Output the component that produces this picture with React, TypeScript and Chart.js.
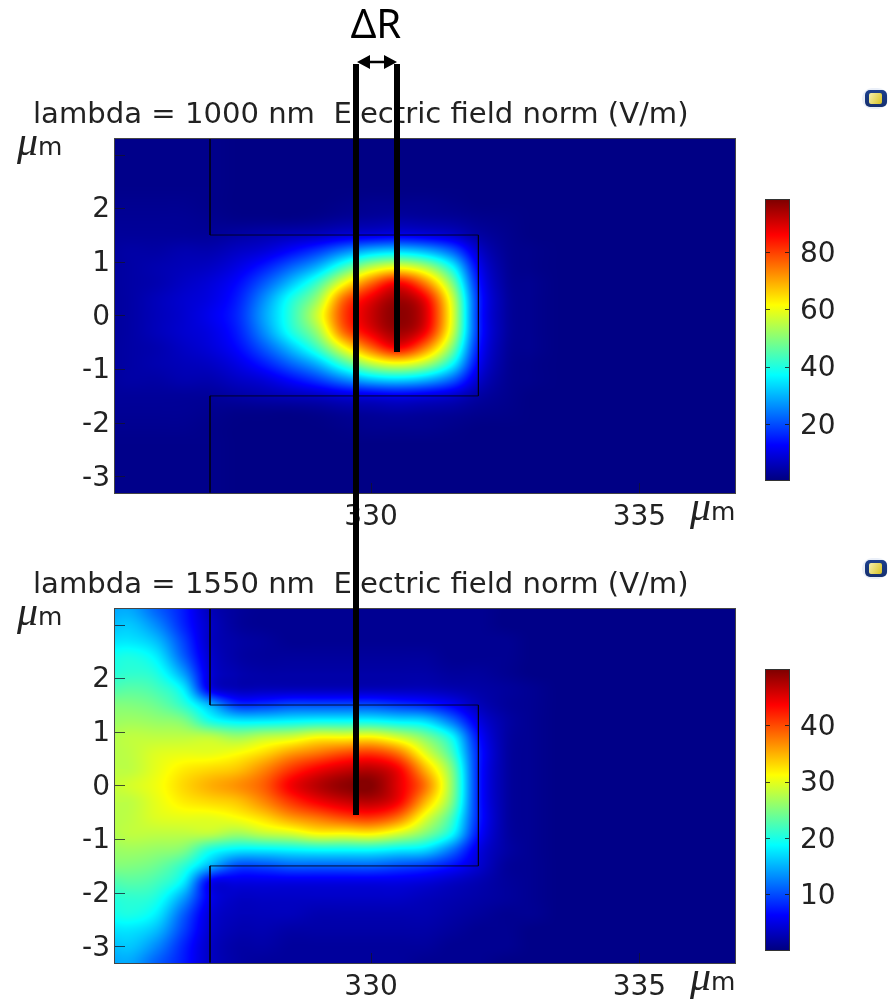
import React, { useEffect, useRef } from "react";
import { Chart, registerables } from "chart.js";
Chart.register(...registerables);

const titles = ["lambda = 1000 nm  Electric field norm (V/m)", "lambda = 1550 nm  Electric field norm (V/m)"];
const xNodes = [325,325.5,326,326.5,327,327.5,328,328.5,329,329.5,330,330.5,331,331.5,332,332.5,333,333.5,334,334.5,335,335.5,336,336.5,337];
const yNodes = [3.3,3,2.7,2.4,2.1,1.8,1.5,1.2,0.9,0.6,0.3,0,-0.3,-0.6,-0.9,-1.2,-1.5,-1.8,-2.1,-2.4,-2.7,-3,-3.3];
const xTicks = [330, 335];
const yTicks = [3, 2, 1, 0, -1, -2, -3];
const waveguideX = [327, 327, 332, 332, 327, 327];
const waveguideY = [3.3, 1.5, 1.5, -1.5, -1.5, -3.3];
const barTicks1 = [20, 40, 60, 80];
const barTicks2 = [10, 20, 30, 40];
const range1 = [0.45, 98.1];
const range2 = [0.1, 49.8];
const unitMu = "\u03BC";
const unitM = "m";

const field1 = [
[1.5,1.5,1.5,1.5,1.5,1,1,1,1,1,1,1,1,1,1,1,1,1,1,1,1,1,1,1,1],
[1.5,1.5,1.5,1.5,1.5,1,1,1,1,1,1,1,1,1,1,1,1,1,1,1,1,1,1,1,1],
[1.5,1.5,1.5,1.5,1.5,1,1,1,1,1,1,1,1,1,1,1,1,1,1,1,1,1,1,1,1],
[1.5,1.5,1.5,1.5,1.5,1,1,1,1,1,1,1,1,1,1,1,1,1,1,1,1,1,1,1,1],
[2,2,2,2,1.5,1,1,1,1,1.5,2,2,2,1.5,1,1,1,1,1,1,1,1,1,1,1],
[2.5,2.5,2.5,2.5,2,1.5,1.5,1.5,2,3,3.5,4,3.5,3,2,1.5,1,1,1,1,1,1,1,1,1],
[3,3,3,3,3,4,5,6,7,9,10,11,10,8,4,2,1,1,1,1,1,1,1,1,1],
[3,4,4,5,5,7,9,13,18,25,31,33,30,22,8,2.5,1.5,1,1,1,1,1,1,1,1],
[3,4,5,6,7,10,15,22,30,43,55,60,54,38,12,3,1.5,1,1,1,1,1,1,1,1],
[3,4,5,7,9,13,21,31,43,61,76,86,74,50,15,3.5,2,1,1,1,1,1,1,1,1],
[3,4,6,8,10,15,26,39,52,76,88,95,87,58,17,4,2,1,1,1,1,1,1,1,1],
[3,4,6,8,11,16,28,41,57,80,91,97,90,60,17,4,2,1,1,1,1,1,1,1,1],
[3,4,6,8,10,15,26,39,52,76,88,95,87,58,17,4,2,1,1,1,1,1,1,1,1],
[3,4,5,7,9,13,21,31,43,61,76,86,74,50,15,3.5,2,1,1,1,1,1,1,1,1],
[3,4,5,6,7,10,15,22,30,43,55,60,54,38,12,3,1.5,1,1,1,1,1,1,1,1],
[3,4,4,5,5,7,9,13,18,25,31,33,30,22,8,2.5,1.5,1,1,1,1,1,1,1,1],
[3,3,3,3,3,4,5,6,7,9,10,11,10,8,4,2,1,1,1,1,1,1,1,1,1],
[2.5,2.5,2.5,2.5,2,1.5,1.5,1.5,2,3,3.5,4,3.5,3,2,1.5,1,1,1,1,1,1,1,1,1],
[2,2,2,2,1.5,1,1,1,1,1.5,2,2,2,1.5,1,1,1,1,1,1,1,1,1,1,1],
[1.5,1.5,1.5,1.5,1.5,1,1,1,1,1,1,1,1,1,1,1,1,1,1,1,1,1,1,1,1],
[1.5,1.5,1.5,1.5,1.5,1,1,1,1,1,1,1,1,1,1,1,1,1,1,1,1,1,1,1,1],
[1.5,1.5,1.5,1.5,1.5,1,1,1,1,1,1,1,1,1,1,1,1,1,1,1,1,1,1,1,1],
[1.5,1.5,1.5,1.5,1.5,1,1,1,1,1,1,1,1,1,1,1,1,1,1,1,1,1,1,1,1],
];

const field2 = [
[14,14.5,11,7.5,3,1.5,1,1,1,1,1,1,1,1,1,0.5,0.5,0.5,0.5,0.5,0.5,0.5,0.5,0.5,0.5],
[15,16,13,8,3.5,1.5,1,1,1,1,1,1,1,1,1,0.5,0.5,0.5,0.5,0.5,0.5,0.5,0.5,0.5,0.5],
[17,17.5,15.5,9.5,3.5,2,1.5,1,1,1,1,1,1,1,1,1,0.5,0.5,0.5,0.5,0.5,0.5,0.5,0.5,0.5],
[19,20,18,11,4,2,1.5,1.5,1.5,1.5,1.5,1.5,1.5,1,1,1,0.5,0.5,0.5,0.5,0.5,0.5,0.5,0.5,0.5],
[20,21,20,14,4.5,2.5,2,2,2,2,2,2,2,1.5,1.5,1,0.5,0.5,0.5,0.5,0.5,0.5,0.5,0.5,0.5],
[22,23,22,18,5.5,3,3,3,3,3,3,3,3,2.5,2,1.5,1,0.5,0.5,0.5,0.5,0.5,0.5,0.5,0.5],
[25,25,24,21,15,9,9,10,10,10,10,9,8,6,3,1.5,1,0.5,0.5,0.5,0.5,0.5,0.5,0.5,0.5],
[26,26.5,26,25,20,18,18,18.5,19,19,19,18,17,12,5,2,1,0.5,0.5,0.5,0.5,0.5,0.5,0.5,0.5],
[27,28,28,28,28,26.5,28,29,31,31,31.5,29,25,19,7,2,1,0.5,0.5,0.5,0.5,0.5,0.5,0.5,0.5],
[27.5,28,29.5,30,30,31,33,36,38,40,41,38,30,22,8,2,1,0.5,0.5,0.5,0.5,0.5,0.5,0.5,0.5],
[28,28,30,32,33,34,37,41,44,46,47,44,35,25,8,2,1,0.5,0.5,0.5,0.5,0.5,0.5,0.5,0.5],
[28,29,30.5,33,35,36.5,39,44,47,49,49.5,45,38,26,8,2,1,0.5,0.5,0.5,0.5,0.5,0.5,0.5,0.5],
[28,28,30,32,33,34,37,41,44,46,47,44,35,25,8,2,1,0.5,0.5,0.5,0.5,0.5,0.5,0.5,0.5],
[27.5,28,29.5,30,30,31,33,36,38,40,41,38,30,22,8,2,1,0.5,0.5,0.5,0.5,0.5,0.5,0.5,0.5],
[27,28,28,28,28,26.5,28,29,31,31,31.5,29,25,19,7,2,1,0.5,0.5,0.5,0.5,0.5,0.5,0.5,0.5],
[26,26.5,26,25,20,18,18,18.5,19,19,19,18,17,12,5,2,1,0.5,0.5,0.5,0.5,0.5,0.5,0.5,0.5],
[25,25,24,21,15,10,10,11,11,11,11,10,9,7,4,1.5,1,0.5,0.5,0.5,0.5,0.5,0.5,0.5,0.5],
[22,23,22,18,6,5,5,5,5,5,5,5,4.5,3.5,2.5,1.5,1,0.5,0.5,0.5,0.5,0.5,0.5,0.5,0.5],
[20,21,20,14,5.5,3.5,3.5,3.5,3.5,3.5,3.5,3.5,3,2.5,2,1.5,1,0.5,0.5,0.5,0.5,0.5,0.5,0.5,0.5],
[19,20,18,11,4.5,3,3,3,2.5,2.5,2.5,2.5,2.5,2,1.5,1,1,0.5,0.5,0.5,0.5,0.5,0.5,0.5,0.5],
[17,17.5,15.5,9.5,4,2.5,2.5,2,2,2,2,2,2,1.5,1,1,0.5,0.5,0.5,0.5,0.5,0.5,0.5,0.5,0.5],
[15,16,13,8,3.5,2,2,1.5,1.5,1.5,1.5,1.5,1.5,1,1,1,0.5,0.5,0.5,0.5,0.5,0.5,0.5,0.5,0.5],
[14,14.5,11,7.5,3.5,2,1.5,1.5,1.5,1.5,1.5,1.5,1,1,1,0.5,0.5,0.5,0.5,0.5,0.5,0.5,0.5,0.5,0.5],
];

const FONT = "'DejaVu Sans'";
const TEXT = "#222";

function jet(t: number): [number, number, number] {
  const c = (v: number) => Math.max(0, Math.min(1, v));
  return [
    255 * c(Math.min(4 * t - 1.5, -4 * t + 4.5)),
    255 * c(Math.min(4 * t - 0.5, -4 * t + 3.5)),
    255 * c(Math.min(4 * t + 0.5, -4 * t + 2.5)),
  ];
}

const cr = (t: number) => [
  -0.5 * t + t * t - 0.5 * t * t * t,
  1 - 2.5 * t * t + 1.5 * t * t * t,
  0.5 * t + 2 * t * t - 1.5 * t * t * t,
  -0.5 * t * t + 0.5 * t * t * t,
];

// Display shading between the read grid nodes (like imshow with a smooth filter).
function fieldAt(field: number[][], x: number, y: number) {
  const nx = xNodes.length, ny = yNodes.length;
  const fx = Math.max(0, Math.min(nx - 1.001, (x - xNodes[0]) / (xNodes[1] - xNodes[0])));
  const fy = Math.max(0, Math.min(ny - 1.001, (yNodes[0] - y) / (yNodes[0] - yNodes[1])));
  const i = Math.floor(fx), j = Math.floor(fy);
  const wx = cr(fx - i), wy = cr(fy - j);
  let v = 0;
  for (let m = 0; m < 4; m++) {
    const row = field[Math.max(0, Math.min(ny - 1, j + m - 1))];
    for (let n = 0; n < 4; n++) v += wy[m] * wx[n] * row[Math.max(0, Math.min(nx - 1, i + n - 1))];
  }
  const corners = [field[j][i], field[j][i + 1], field[j + 1][i], field[j + 1][i + 1]];
  return Math.max(Math.min(...corners) , Math.min(Math.max(...corners), v));
}

function makePanel(canvas: HTMLCanvasElement, title: string, field: number[][], range: number[]) {
  const heatPoints: any[] = [];
  yNodes.forEach((y, j) => xNodes.forEach((x, i) => heatPoints.push({ x, y, v: field[j][i] })));

  const heatPlugin = {
    id: "heat",
    beforeDatasetsDraw(chart: any) {
      const { ctx, chartArea: a, scales } = chart;
      const L = Math.round(a.left), T = Math.round(a.top);
      const W = Math.round(a.right - a.left), H = Math.round(a.bottom - a.top);
      const img = ctx.createImageData(W, H);
      for (let py = 0; py < H; py++) {
        const y = scales.y.getValueForPixel(T + py + 0.5);
        for (let px = 0; px < W; px++) {
          const x = scales.x.getValueForPixel(L + px + 0.5);
          const t = (fieldAt(field, x, y) - range[0]) / (range[1] - range[0]);
          const [r, g, b] = jet(t);
          const k = 4 * (py * W + px);
          img.data[k] = r; img.data[k + 1] = g; img.data[k + 2] = b; img.data[k + 3] = 255;
        }
      }
      ctx.putImageData(img, L, T);
    },
    afterDatasetsDraw(chart: any) {
      const { ctx, chartArea: a, scales } = chart;
      ctx.save();
      ctx.strokeStyle = "rgba(20,20,40,0.75)";
      ctx.lineWidth = 1;
      ctx.beginPath();
      scales.y.ticks.forEach((t: any) => {
        const p = Math.round(scales.y.getPixelForValue(t.value)) + 0.5;
        ctx.moveTo(a.left, p); ctx.lineTo(a.left + 10, p);
      });
      scales.x.ticks.forEach((t: any) => {
        const p = Math.round(scales.x.getPixelForValue(t.value)) + 0.5;
        ctx.moveTo(p, a.bottom); ctx.lineTo(p, a.bottom - 10);
      });
      ctx.stroke();
      ctx.strokeStyle = "#444";
      ctx.strokeRect(a.left - 0.5, a.top - 0.5, a.right - a.left + 1, a.bottom - a.top + 1);
      const unit = (x: number, y: number) => {
        ctx.fillStyle = TEXT;
        ctx.textBaseline = "alphabetic";
        ctx.textAlign = "left";
        ctx.font = "italic 42px 'Liberation Serif'";
        ctx.fillText(unitMu, x, y);
        ctx.font = `25px ${FONT}`;
        ctx.fillText(unitM, x + 21, y);
      };
      unit(a.left - 98, a.top + 16);
      unit(a.right - 45, a.bottom + 27);
      ctx.restore();
    },
  };

  return new Chart(canvas, {
    type: "scatter",
    plugins: [heatPlugin],
    data: {
      datasets: [
        { label: "field", data: heatPoints, pointRadius: 0, showLine: false },
        {
          label: "waveguide",
          data: waveguideX.map((x, i) => ({ x, y: waveguideY[i] })),
          showLine: true, pointRadius: 0, borderWidth: 1, borderColor: "rgba(0,0,20,0.85)", backgroundColor: "transparent",
        },
      ] as any,
    },
    options: {
      responsive: false,
      animation: false,
      layout: { padding: { left: 33, right: 25, top: 0, bottom: 0 } },
      plugins: {
        legend: { display: false },
        tooltip: { enabled: false },
        title: {
          display: true, text: title, align: "start", color: TEXT,
          font: { family: FONT, size: 29.1, weight: "normal", lineHeight: 1.2 },
          padding: { top: 8, bottom: 6.1 },
        },
      },
      scales: {
        x: {
          type: "linear", min: 325.23, max: 336.78,
          grid: { display: false, drawTicks: false }, border: { display: false },
          afterBuildTicks: (s: any) => { s.ticks = xTicks.map((value) => ({ value })); },
          afterFit: (s: any) => { s.height = 42; },
          ticks: { autoSkip: false, maxRotation: 0, padding: 8, color: TEXT, font: { family: FONT, size: 28 }, callback: (v: any) => String(v) },
        },
        y: {
          type: "linear", min: -3.31, max: 3.29,
          grid: { display: false, drawTicks: false }, border: { display: false },
          afterBuildTicks: (s: any) => { s.ticks = yTicks.map((value) => ({ value })); },
          afterFit: (s: any) => { s.width = 82; },
          ticks: { autoSkip: false, padding: 5, labelOffset: 2, color: TEXT, font: { family: FONT, size: 28 }, callback: (v: any) => (v === 3 ? "" : String(v)) },
        },
      },
    } as any,
  });
}

function makeBar(canvas: HTMLCanvasElement, range: number[], ticks: number[]) {
  const stops = [0, 0.11, 0.125, 0.375, 0.625, 0.875, 1];
  const markPlugin = {
    id: "marks",
    afterDatasetsDraw(chart: any) {
      const { ctx, chartArea: a, scales } = chart;
      ctx.save();
      ctx.strokeStyle = "rgba(20,20,20,0.8)";
      ctx.lineWidth = 1;
      ctx.beginPath();
      scales.y.ticks.forEach((t: any) => {
        const p = Math.round(scales.y.getPixelForValue(t.value)) + 0.5;
        ctx.moveTo(a.left, p); ctx.lineTo(a.left + 4, p);
        ctx.moveTo(a.right, p); ctx.lineTo(a.right - 4, p);
      });
      ctx.stroke();
      ctx.strokeStyle = "#333";
      ctx.strokeRect(a.left - 0.5, a.top - 0.5, a.right - a.left + 1, a.bottom - a.top + 1);
      ctx.restore();
    },
  };
  return new Chart(canvas, {
    type: "bar",
    plugins: [markPlugin],
    data: {
      labels: [""],
      datasets: [{
        data: [[range[0], range[1]]],
        barPercentage: 1, categoryPercentage: 1, borderWidth: 0,
        backgroundColor: (c: any) => {
          const { chart } = c;
          if (!chart.chartArea) return "#000";
          const g = chart.ctx.createLinearGradient(0, chart.chartArea.bottom, 0, chart.chartArea.top);
          stops.forEach((t) => { const [r, gg, b] = jet(t); g.addColorStop(t, `rgb(${r},${gg},${b})`); });
          return g;
        },
      }] as any,
    },
    options: {
      responsive: false,
      animation: false,
      layout: { padding: { left: 6, right: 0, top: 20, bottom: 20 } },
      plugins: { legend: { display: false }, tooltip: { enabled: false }, title: { display: false } },
      scales: {
        x: { display: false, grid: { display: false } },
        y: {
          type: "linear", position: "right", min: range[0], max: range[1],
          grid: { display: false, drawTicks: false }, border: { display: false },
          afterBuildTicks: (s: any) => { s.ticks = ticks.map((value) => ({ value })); },
          afterFit: (s: any) => { s.width = 100; s.paddingTop = 0; s.paddingBottom = 0; },
          ticks: { autoSkip: false, padding: 11, labelOffset: 2.5, color: TEXT, font: { family: FONT, size: 28 }, callback: (v: any) => String(v) },
        },
      },
    } as any,
  });
}

const abs = (left: number, top: number, width: number, height: number): React.CSSProperties => ({
  position: "absolute", left, top, width, height, display: "block",
});

function Icon({ top }: { top: number }) {
  return (
    <div style={{ ...abs(862, top, 26, 21), borderRadius: 10, background: "rgba(225,232,245,0.7)" }}>
      <div style={{ ...abs(3, 2, 22, 17), borderRadius: 5, background: "linear-gradient(180deg,#1c3f8c,#16306f)" }}>
        <div style={{ ...abs(4, 3, 13, 11), borderRadius: 2, background: "linear-gradient(120deg,#f4f0b0,#d9c320)" }} />
      </div>
    </div>
  );
}

export default function App() {
  const a = useRef<HTMLCanvasElement>(null);
  const b = useRef<HTMLCanvasElement>(null);
  const c = useRef<HTMLCanvasElement>(null);
  const d = useRef<HTMLCanvasElement>(null);
  useEffect(() => {
    const charts = [
      makePanel(a.current!, titles[0], field1, range1),
      makeBar(b.current!, range1, barTicks1),
      makePanel(c.current!, titles[1], field2, range2),
      makeBar(d.current!, range2, barTicks2),
    ];
    return () => charts.forEach((ch) => ch.destroy());
  }, []);
  return (
    <div style={{ position: "absolute", left: 0, top: 0, width: 889, height: 1005, overflow: "hidden", background: "#fff" }}>
      <canvas ref={a} width={760} height={445} style={abs(0, 90, 760, 445)} />
      <canvas ref={b} width={129} height={320} style={abs(760, 180, 129, 320)} />
      <canvas ref={c} width={760} height={445} style={abs(0, 560, 760, 445)} />
      <canvas ref={d} width={129} height={320} style={abs(760, 650, 129, 320)} />
      <div style={{ ...abs(353, 64, 6, 751), background: "#000" }} />
      <div style={{ ...abs(394, 64, 6, 288), background: "#000" }} />
      <svg style={abs(350, 50, 56, 24)} viewBox="0 0 56 24">
        <path d="M7 12 L20 5 L20 10.7 L34 10.7 L34 5 L47 12 L34 19 L34 13.3 L20 13.3 L20 19 Z" fill="#000" />
      </svg>
      <div style={{ position: "absolute", left: 340, top: -4, width: 72, textAlign: "center", fontFamily: "'Noto Sans'", fontSize: 40, color: "#000", lineHeight: "54px" }}>
        {"\u0394R"}
      </div>
      <Icon top={88} />
      <Icon top={558} />
    </div>
  );
}
